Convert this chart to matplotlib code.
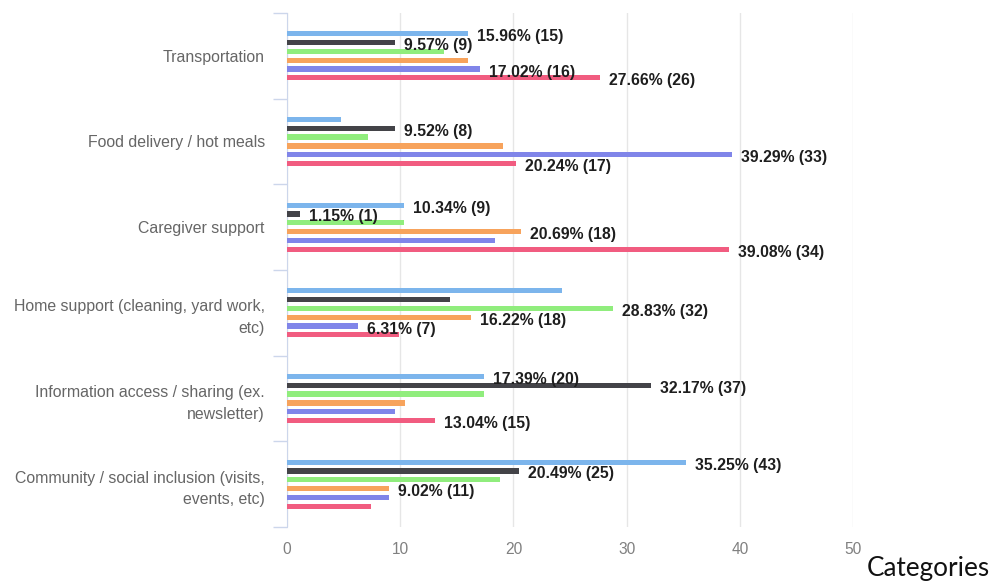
import numpy as np
import matplotlib
matplotlib.use("Agg")
import matplotlib.pyplot as plt

# categories, top to bottom
categories = [
    "Transportation",
    "Food delivery / hot meals",
    "Caregiver support",
    "Home support (cleaning, yard work,\netc)",
    "Information access / sharing (ex.\nnewsletter)",
    "Community / social inclusion (visits,\nevents, etc)",
]

# six series per category (percent)
s_blue = [15.96, 4.76, 10.34, 24.32, 17.39, 35.25]
s_black = [9.57, 9.52, 1.15, 14.41, 32.17, 20.49]
s_green = [13.83, 7.14, 10.34, 28.83, 17.39, 18.85]
s_orange = [15.96, 19.05, 20.69, 16.22, 10.43, 9.02]
s_purple = [17.02, 39.29, 18.39, 6.31, 9.57, 9.02]
s_red = [27.66, 20.24, 39.08, 9.91, 13.04, 7.38]

# counts shown in the data labels (None = no label drawn)
n_blue = [15, None, 9, None, 20, 43]
n_black = [9, 8, 1, None, 37, 25]
n_green = [None, None, None, 32, None, None]
n_orange = [None, None, 18, 18, None, 11]
n_purple = [16, 33, None, 7, None, None]
n_red = [26, 17, 34, None, 15, None]

series = [s_blue, s_black, s_green, s_orange, s_purple, s_red]
counts = [n_blue, n_black, n_green, n_orange, n_purple, n_red]
colors = ["#7cb5ec", "#434348", "#90ed7d", "#f7a35c", "#8085e9", "#f15c80"]

plt.rcParams["font.family"] = ["Liberation Sans", "DejaVu Sans"]

fig = plt.figure(figsize=(9.92, 5.82), dpi=100)
ax = fig.add_axes([287 / 992, 1 - 527 / 582, (853 - 287) / 992, (527 - 13) / 582])

y = np.arange(len(categories))
step = 0.1027
bar_h = 0.062
for j, (vals, cnts, col) in enumerate(zip(series, counts, colors)):
    pos = y + (j - 2.5) * step
    ax.barh(pos, vals, height=bar_h, color=col, zorder=3)
    for p, v, n in zip(pos, vals, cnts):
        if n is None:
            continue
        ax.annotate("{:.2f}% ({})".format(v, n), (v, p), xytext=(9, -3),
                    textcoords="offset pixels", ha="left", va="center",
                    fontsize=11.3, fontweight="bold", color="#1e1e1e", zorder=5)

ax.set_xlim(0, 50)
ax.set_ylim(len(categories) - 0.5, -0.5)
ax.set_xticks(np.arange(0, 51, 10))
ax.grid(axis="x", color="#e6e6e6", linewidth=1, zorder=0)
ax.tick_params(axis="x", length=0, labelsize=11.2, labelcolor="#808080", pad=11)

# band boundary ticks on the y axis, labels at band centres
ax.set_yticks(np.arange(-0.5, len(categories)), labels=[""] * (len(categories) + 1))
ax.set_yticks(y, labels=categories, minor=True)
ax.tick_params(axis="y", which="major", length=10, color="#ccd6eb", width=1)
ax.tick_params(axis="y", which="minor", length=0, pad=16, labelsize=11.4,
               labelcolor="#666666")
for lab in ax.get_yticklabels(minor=True):
    lab.set_horizontalalignment("right")
    lab.set_linespacing(1.55)

for side in ["top", "right", "bottom"]:
    ax.spines[side].set_visible(False)
ax.spines["left"].set_color("#ccd6eb")

fig.text(0.998, 0.002, "Categories", ha="right", va="bottom", fontsize=18.8,
         family=["Lato", "DejaVu Sans"], color="#111111")

fig.savefig("out.png", dpi=100)
